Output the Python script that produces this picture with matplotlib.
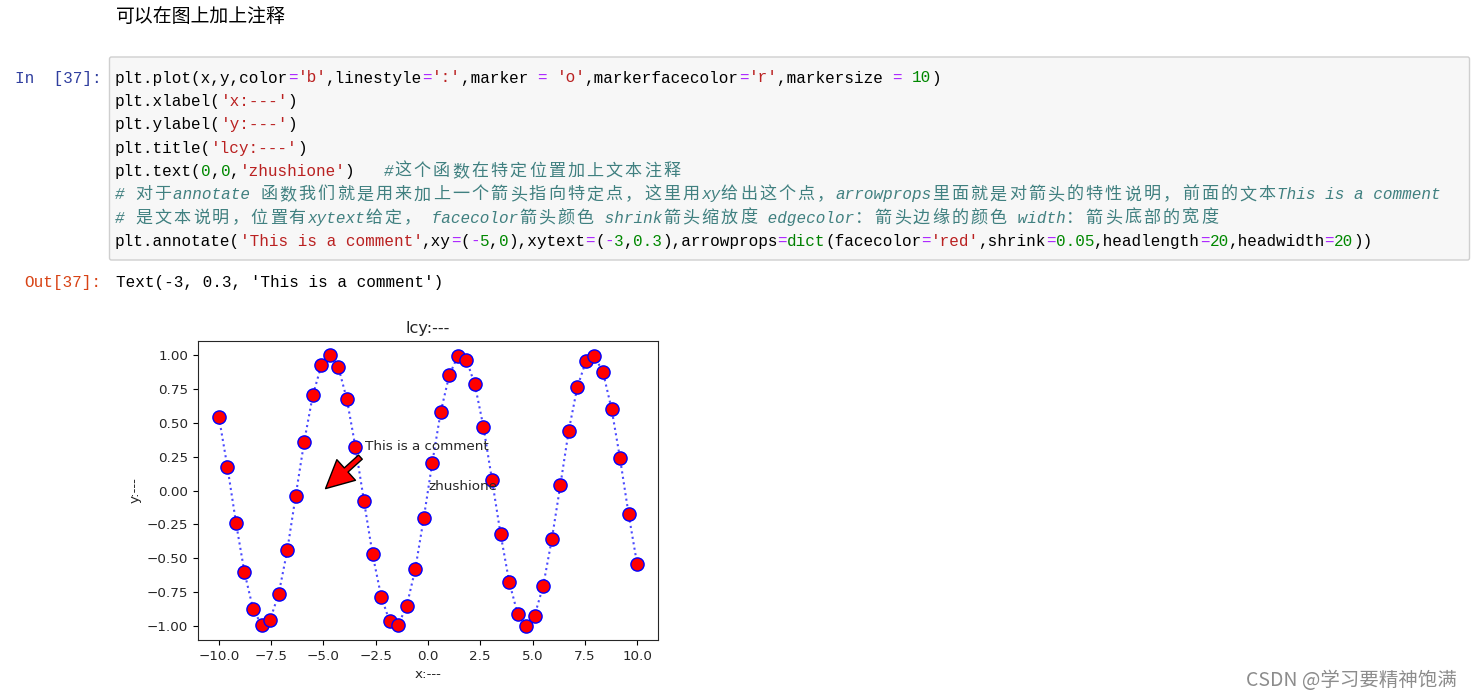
import re
import numpy as np
import matplotlib
matplotlib.use('Agg')
import matplotlib.pyplot as plt
from matplotlib.patches import FancyBboxPatch

plt.rcParams['font.family'] = ['DejaVu Sans', 'Noto Sans CJK SC']

# datos
x = [-10.00, -9.59, -9.18, -8.78, -8.37, -7.96, -7.55, -7.14, -6.73, -6.33,
     -5.92, -5.51, -5.10, -4.69, -4.29, -3.88, -3.47, -3.06, -2.65, -2.24,
     -1.84, -1.43, -1.02, -0.61, -0.20, 0.20, 0.61, 1.02, 1.43, 1.84,
     2.24, 2.65, 3.06, 3.47, 3.88, 4.29, 4.69, 5.10, 5.51, 5.92,
     6.33, 6.73, 7.14, 7.55, 7.96, 8.37, 8.78, 9.18, 9.59, 10.00]
y = [0.54, 0.17, -0.24, -0.60, -0.87, -0.99, -0.95, -0.76, -0.44, -0.04,
     0.36, 0.70, 0.92, 1.00, 0.91, 0.67, 0.32, -0.08, -0.47, -0.78,
     -0.96, -0.99, -0.85, -0.58, -0.20, 0.20, 0.58, 0.85, 0.99, 0.96,
     0.78, 0.47, 0.08, -0.32, -0.67, -0.91, -1.00, -0.92, -0.70, -0.36,
     0.04, 0.44, 0.76, 0.95, 0.99, 0.87, 0.60, 0.24, -0.17, -0.54]
xticks = [-10.0, -7.5, -5.0, -2.5, 0.0, 2.5, 5.0, 7.5, 10.0]
yticks = [-1.00, -0.75, -0.50, -0.25, 0.00, 0.25, 0.50, 0.75, 1.00]

heading = '可以在图上加上注释'
code_lines = [
    "plt.plot(x,y,color='b',linestyle=':',marker = 'o',markerfacecolor='r',markersize = 10)",
    "plt.xlabel('x:---')",
    "plt.ylabel('y:---')",
    "plt.title('lcy:---')",
    "plt.text(0,0,'zhushione')   #这个函数在特定位置加上文本注释",
    "# 对于annotate 函数我们就是用来加上一个箭头指向特定点，这里用xy给出这个点，arrowprops里面就是对箭头的特性说明，前面的文本This is a comment",
    "# 是文本说明，位置有xytext给定， facecolor箭头颜色 shrink箭头缩放度 edgecolor：箭头边缘的颜色 width：箭头底部的宽度",
    "plt.annotate('This is a comment',xy=(-5,0),xytext=(-3,0.3),arrowprops=dict(facecolor='red',shrink=0.05,headlength=20,headwidth=20))",
]
out_text = "Text(-3, 0.3, 'This is a comment')"
watermark = 'CSDN @学习要精神饱满'

W, H = 1472, 699
fig = plt.figure(figsize=(W / 100, H / 100), dpi=100)
fig.patch.set_facecolor('white')

# capa de fondo en pixeles para el "notebook"
bg = fig.add_axes([0, 0, 1, 1])
bg.set_xlim(0, W)
bg.set_ylim(H, 0)
bg.axis('off')

MONO = 'Liberation Mono'
CJK = 'Noto Sans CJK SC'
CW = 9.6          # ancho de una columna
MONO_SIZE = 11.5
CJK_SIZE = 12.3

bg.text(116, 17, heading, family=CJK, fontsize=13.6, va='center', ha='left', color='black')

bg.add_patch(FancyBboxPatch((109.5, 57), 1360, 203,
                            boxstyle='round,pad=0,rounding_size=2',
                            facecolor='#f7f7f7', edgecolor='#cfcfcf', lw=1))


def estilos(line):
    st = [('#000000', 'normal')] * len(line)
    for m in re.finditer(r"#.*$|'[^']*'|\b\d+(?:\.\d+)?\b|[=\-]|\bdict\b", line):
        t = m.group()
        if t.startswith('#'):
            s = ('#408080', 'italic')
        elif t.startswith("'"):
            s = ('#BA2121', 'normal')
        elif t[0].isdigit():
            s = ('#008800', 'normal')
        elif t == 'dict':
            s = ('#008000', 'normal')
        else:
            s = ('#AA22FF', 'normal')
        for i in range(m.start(), m.end()):
            st[i] = s
    return st


def linea(line, x0, yb, st=None):
    if st is None:
        st = [('#000000', 'normal')] * len(line)
    col, i = 0, 0
    while i < len(line):
        c = line[i]
        if ord(c) > 0x2000:
            bg.text(x0 + (col + 1) * CW, yb, c, color=st[i][0], family=CJK,
                    fontsize=CJK_SIZE, ha='center', va='baseline')
            col += 2
            i += 1
        else:
            j = i
            while j < len(line) and ord(line[j]) <= 0x2000 and st[j] == st[i]:
                j += 1
            bg.text(x0 + col * CW, yb, line[i:j], color=st[i][0], family=MONO,
                    style=st[i][1], fontsize=MONO_SIZE, ha='left', va='baseline')
            col += j - i
            i = j


bg.text(15, 82.5, 'In  [37]:', family=MONO, fontsize=MONO_SIZE, color='#303F9F', va='baseline')
for k, line in enumerate(code_lines):
    linea(line, 115, 82.5 + k * 23.35, estilos(line))

bg.text(24, 287, 'Out[37]:', family=MONO, fontsize=MONO_SIZE, color='#D84315', va='baseline')
linea(out_text, 116.5, 287)

bg.text(1457, 680, watermark, family=CJK, fontsize=14, color='#8c8c8c',
        ha='right', va='center')

# grafica
ax = fig.add_axes([198 / W, (H - 640) / H, 460 / W, 299 / H])
ax.plot(x, y, color='#4a4aff', linestyle=':', marker='o', markerfacecolor='r',
        markeredgecolor='b', markersize=9.5)
ax.set_xticks(xticks)
ax.set_yticks(yticks)
ax.set_xlim(-11, 11)
ax.set_ylim(-1.1, 1.1)
ax.tick_params(labelsize=9.7, labelcolor='#262626')
for s in ax.spines.values():
    s.set_color('#262626')
ax.set_xlabel('x:---', fontsize=9.7, color='#262626')
ax.set_ylabel('y:---', fontsize=9.7, color='#262626')
ax.set_title('lcy:---', fontsize=11.6, color='#262626')
ax.text(0, 0, 'zhushione', fontsize=9.7, color='#262626')
ax.annotate('This is a comment', xy=(-5, 0), xytext=(-3, 0.3), fontsize=9.7, color='#262626',
            arrowprops=dict(facecolor='red', shrink=0.05, headlength=20, headwidth=20))

fig.savefig('out.png', dpi=100, facecolor='white')
